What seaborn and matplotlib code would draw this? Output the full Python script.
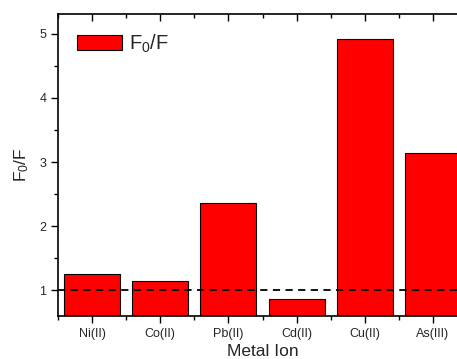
import numpy as np
import pandas as pd
import matplotlib
matplotlib.use("Agg")
import matplotlib.pyplot as plt
from matplotlib.ticker import MultipleLocator, FixedLocator
import seaborn as sns

# values
metals = ['Ni(II)', 'Co(II)', 'Pb(II)', 'Cd(II)', 'Cu(II)', 'As(III)']
ratio = [1.25, 1.14, 2.37, 0.86, 4.92, 3.14]

df = pd.DataFrame({'metal': metals, 'ratio': ratio})

sns.set_style('ticks')
plt.rcParams['font.family'] = ['Liberation Sans', 'DejaVu Sans']
plt.rcParams['mathtext.fontset'] = 'custom'
plt.rcParams['mathtext.rm'] = 'Liberation Sans'
plt.rcParams['mathtext.it'] = 'Liberation Sans'
plt.rcParams['mathtext.default'] = 'regular'

fig = plt.figure(figsize=(4.57, 3.59), dpi=100)
ax = fig.add_axes([58 / 457, 43 / 359, 409 / 457, 302 / 359])

sns.barplot(data=df, x='metal', y='ratio', color='#ff0000', saturation=1,
            width=0.82, edgecolor='black', linewidth=0.8, ax=ax,
            label=r'F$_0$/F')

# reference line at F0/F = 1
ax.axhline(1, color='black', linestyle=(0, (4, 3)), linewidth=1.3, zorder=5)

ax.set_xlim(-0.5, 5.5)
ax.set_ylim(0.6, 5.31)
ax.yaxis.set_major_locator(FixedLocator([1, 2, 3, 4, 5]))
ax.yaxis.set_minor_locator(MultipleLocator(0.5))
ax.xaxis.set_minor_locator(FixedLocator(np.arange(-0.5, 6, 1)))

ax.tick_params(axis='both', which='major', labelsize=9, length=5, width=1, color='black')
ax.tick_params(axis='both', which='minor', length=3, width=1, color='black')
ax.tick_params(axis='x', which='both', top=True, direction='out')
ax.tick_params(axis='x', which='both', labeltop=False)
# top ticks point inward
for t in ax.xaxis.get_major_ticks() + ax.xaxis.get_minor_ticks():
    t.tick2line.set_marker(3)

for s in ['left', 'bottom', 'top']:
    ax.spines[s].set_linewidth(1.2)
    ax.spines[s].set_color('black')
ax.spines['right'].set_visible(False)

ax.set_xlabel('Metal Ion', fontsize=12.5, labelpad=3)
ax.set_ylabel(r'F$_0$/F', fontsize=12.5, labelpad=6)

ax.legend(loc='upper left', bbox_to_anchor=(0.003, 0.998), frameon=False,
          fontsize=14.5, handlelength=2.2, handleheight=0.8, handletextpad=0.35)

fig.savefig('out.png', dpi=100)
